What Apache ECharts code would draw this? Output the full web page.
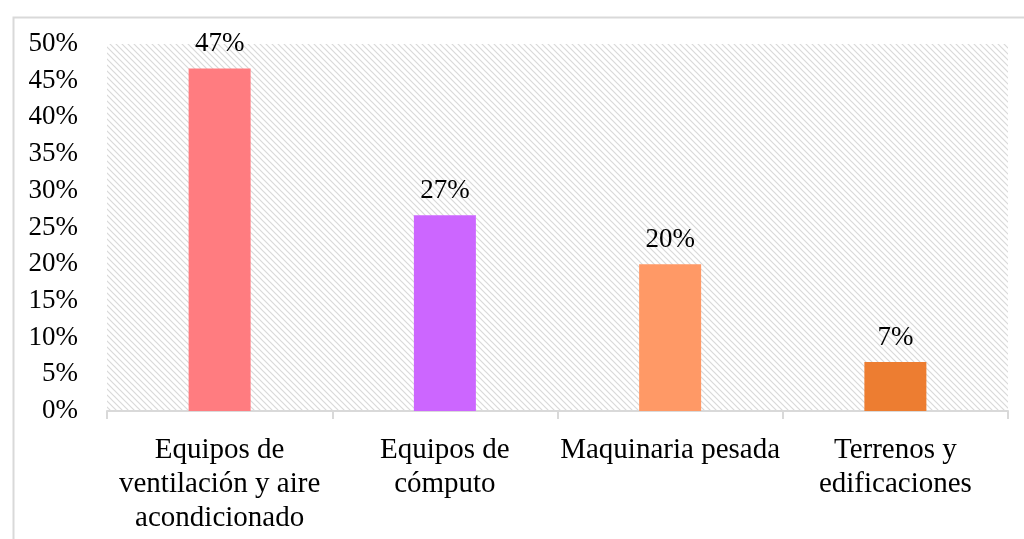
<!DOCTYPE html>
<html>
<head>
<meta charset="utf-8">
<script src="https://cdn.jsdelivr.net/npm/echarts@6/dist/echarts.min.js"></script>
<style>html,body{margin:0;padding:0;background:#fff}#c{width:1024px;height:539px}</style>
</head>
<body>
<div id="c"></div>
<script>
const categories = ['Equipos de\nventilación y aire\nacondicionado', 'Equipos de\ncómputo', 'Maquinaria pesada', 'Terrenos y\nedificaciones'];
const values = [46.67, 26.67, 20.0, 6.67];
const barColors = ['#FF7C80', '#CC66FF', '#FF9966', '#ED7D31'];
const yTicks = [0, 5, 10, 15, 20, 25, 30, 35, 40, 45, 50];

const pc = document.createElement('canvas');
pc.width = 6; pc.height = 6;
const ctx = pc.getContext('2d');
ctx.fillStyle = '#ffffff';
ctx.fillRect(0, 0, 6, 6);
ctx.strokeStyle = '#d9d9d9';
ctx.lineWidth = 1.2;
ctx.beginPath();
ctx.moveTo(-1, -1); ctx.lineTo(7, 7);
ctx.moveTo(-4, 2); ctx.lineTo(2, 8);
ctx.moveTo(2, -4); ctx.lineTo(8, 2);
ctx.stroke();

const font = '"Liberation Serif", "Times New Roman", serif';
const chart = echarts.init(document.getElementById('c'));
chart.setOption({
  animation: false,
  backgroundColor: '#ffffff',
  graphic: [{
    type: 'rect', left: 11, top: 15, shape: { width: 1200, height: 700 },
    style: { fill: 'none', stroke: '#d9d9d9', lineWidth: 2 }, silent: true
  }],
  grid: {
    left: 107, right: 16, top: 44, bottom: 128, show: true,
    backgroundColor: { image: pc, repeat: 'repeat' }, borderWidth: 0
  },
  xAxis: {
    type: 'category', data: categories,
    axisLine: { lineStyle: { color: '#d9d9d9', width: 2 } },
    axisTick: { show: true, length: 8, lineStyle: { color: '#d9d9d9', width: 2 } },
    axisLabel: { fontFamily: font, fontSize: 29, color: '#000', lineHeight: 34, margin: 22, interval: 0 }
  },
  yAxis: {
    type: 'value', min: 0, max: 50, interval: 5,
    axisLine: { show: false }, axisTick: { show: false },
    splitLine: { show: false },
    axisLabel: { fontFamily: font, fontSize: 27, color: '#000', margin: 29,
      formatter: v => yTicks.includes(v) ? v + '%' : '' }
  },
  series: [{
    type: 'bar', barWidth: 62,
    data: values.map((v, i) => ({ value: v, itemStyle: { color: barColors[i] } })),
    label: { show: true, position: 'top', distance: 11, fontFamily: font, fontSize: 27, color: '#000',
      formatter: p => Math.round(p.value) + '%' }
  }]
});
</script>
</body>
</html>
